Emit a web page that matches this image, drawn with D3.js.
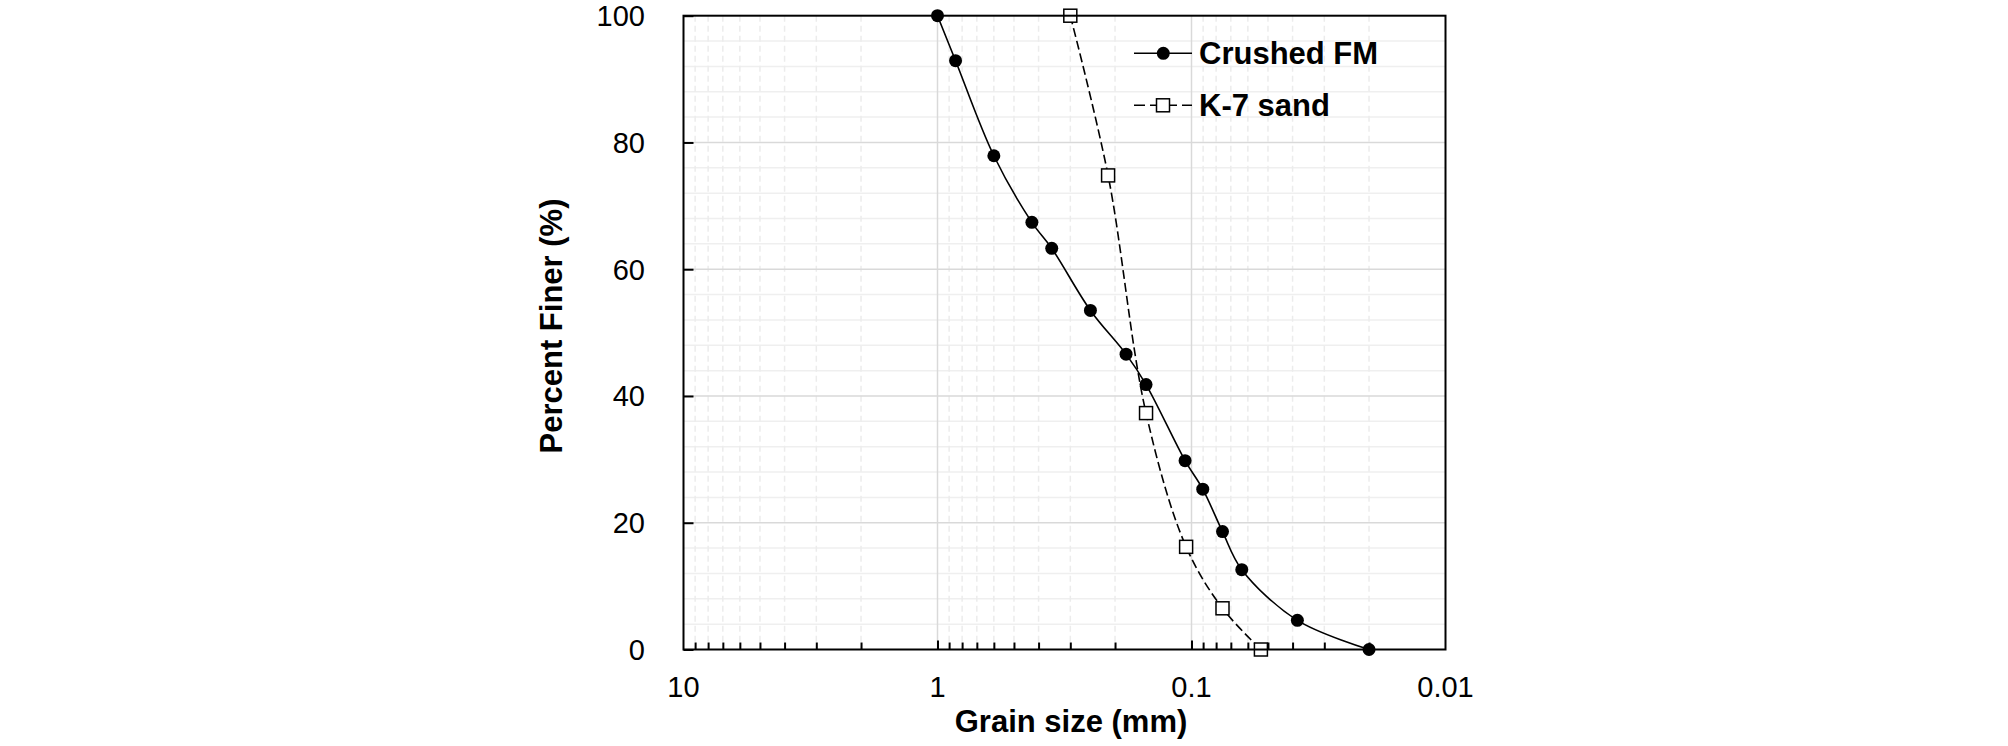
<!DOCTYPE html>
<html>
<head>
<meta charset="utf-8">
<script src="https://cdn.jsdelivr.net/npm/d3@7"></script>
<style>
  html, body { margin: 0; padding: 0; background: #fff; }
  svg { display: block; }
  text { font-family: "Liberation Sans", Arial, sans-serif; fill: #000; }
</style>
</head>
<body>
<script>
// ---- data ----
const crushedSize = [1, 0.849, 0.6, 0.425, 0.355, 0.25, 0.181, 0.151, 0.106, 0.0903, 0.0755, 0.0634, 0.0383, 0.02];
const crushedPct  = [100, 92.9, 77.9, 67.4, 63.3, 53.5, 46.6, 41.8, 29.8, 25.3, 18.6, 12.6, 4.6, 0];
const k7Size = [0.3, 0.213, 0.151, 0.105, 0.0755, 0.0533];
const k7Pct  = [100, 74.8, 37.3, 16.2, 6.5, 0];
const xTickValues = [10, 1, 0.1, 0.01];
const xTickLabels = ["10", "1", "0.1", "0.01"];
const yTickValues = [0, 20, 40, 60, 80, 100];
const seriesNames = ["Crushed FM", "K-7 sand"];

const W = 2008, H = 746;
const pL = 683.5, pR = 1445.5, pT = 15.7, pB = 649.5;

const svg = d3.select("body").append("svg").attr("width", W).attr("height", H);

const x = d3.scaleLog().domain([10, 0.01]).range([pL, pR]);
const y = d3.scaleLinear().domain([0, 100]).range([pB, pT]);

const grid = svg.append("g");
// minor horizontal gridlines every 4
const yMinor = d3.range(0, 101, 4).filter(v => v % 20 !== 0);
grid.selectAll("line.hmin").data(yMinor).enter().append("line")
  .attr("x1", pL).attr("x2", pR)
  .attr("y1", d => y(d)).attr("y2", d => y(d))
  .attr("stroke", "#efefef").attr("stroke-width", 1.5);
// minor vertical dashed gridlines
const xMinor = [];
[1, 0.1, 0.01].forEach(p => { for (let k = 2; k <= 9; k++) xMinor.push(+(k * p).toPrecision(3)); });
grid.selectAll("line.vmin").data(xMinor).enter().append("line")
  .attr("y1", pT).attr("y2", pB)
  .attr("x1", d => x(d)).attr("x2", d => x(d))
  .attr("stroke", "#ececec").attr("stroke-width", 1.5).attr("stroke-dasharray", "6,4");
// major horizontal gridlines
grid.selectAll("line.hmaj").data(yTickValues.filter(v => v > 0 && v < 100)).enter().append("line")
  .attr("x1", pL).attr("x2", pR)
  .attr("y1", d => y(d)).attr("y2", d => y(d))
  .attr("stroke", "#d9d9d9").attr("stroke-width", 1.5);
// major vertical gridlines
grid.selectAll("line.vmaj").data([1, 0.1]).enter().append("line")
  .attr("y1", pT).attr("y2", pB)
  .attr("x1", d => x(d)).attr("x2", d => x(d))
  .attr("stroke", "#d9d9d9").attr("stroke-width", 1.5);

// series
const crushed = crushedSize.map((s, i) => ({ s, p: crushedPct[i] }));
const k7 = k7Size.map((s, i) => ({ s, p: k7Pct[i] }));
const line = d3.line().x(d => x(d.s)).y(d => y(d.p)).curve(d3.curveCatmullRom.alpha(0.5));

svg.append("path").datum(crushed).attr("d", line)
  .attr("fill", "none").attr("stroke", "#000").attr("stroke-width", 1.6);
svg.append("path").datum(k7).attr("d", line)
  .attr("fill", "none").attr("stroke", "#000").attr("stroke-width", 1.6).attr("stroke-dasharray", "9,4");

svg.selectAll("circle.c").data(crushed).enter().append("circle")
  .attr("cx", d => x(d.s)).attr("cy", d => y(d.p)).attr("r", 6.5).attr("fill", "#000");
svg.selectAll("rect.k").data(k7).enter().append("rect")
  .attr("x", d => x(d.s) - 6.5).attr("y", d => y(d.p) - 6.5)
  .attr("width", 13).attr("height", 13)
  .attr("fill", "#fff").attr("stroke", "#000").attr("stroke-width", 1.5);

// frame
svg.append("rect").attr("x", pL).attr("y", pT).attr("width", pR - pL).attr("height", pB - pT)
  .attr("fill", "none").attr("stroke", "#000").attr("stroke-width", 2);

// y ticks (inside)
const yAxis = d3.axisRight(y).tickValues(yTickValues).tickSize(10).tickFormat("");
const ya = svg.append("g").attr("transform", `translate(${pL},0)`).call(yAxis);
ya.select(".domain").remove();
ya.selectAll("line").attr("stroke", "#000").attr("stroke-width", 2);
svg.selectAll("text.ytl").data(yTickValues).enter().append("text")
  .attr("x", 645).attr("y", d => y(d)).attr("dy", "0.36em")
  .attr("text-anchor", "end").attr("font-size", 29).text(d => d);

// x ticks (inside, minor + major)
const xaMinor = svg.append("g").attr("transform", `translate(0,${pB})`)
  .call(d3.axisTop(x).tickValues(xMinor).tickSize(7).tickFormat(""));
xaMinor.select(".domain").remove();
xaMinor.selectAll("line").attr("stroke", "#000").attr("stroke-width", 2);
const xaMajor = svg.append("g").attr("transform", `translate(0,${pB})`)
  .call(d3.axisTop(x).tickValues([1, 0.1]).tickSize(9).tickFormat(""));
xaMajor.select(".domain").remove();
xaMajor.selectAll("line").attr("stroke", "#000").attr("stroke-width", 2);
svg.selectAll("text.xtl").data(xTickValues).enter().append("text")
  .attr("x", d => x(d)).attr("y", 697)
  .attr("text-anchor", "middle").attr("font-size", 29).text((d, i) => xTickLabels[i]);

// axis titles
svg.append("text").attr("x", 1071).attr("y", 731.5).attr("text-anchor", "middle")
  .attr("font-size", 31).attr("font-weight", "bold").text("Grain size (mm)");
svg.append("text").attr("transform", "translate(561.5,326) rotate(-90)").attr("text-anchor", "middle")
  .attr("font-size", 31).attr("font-weight", "bold").text("Percent Finer (%)");

// legend
const lg = svg.append("g");
lg.append("line").attr("x1", 1134).attr("x2", 1192).attr("y1", 53.3).attr("y2", 53.3)
  .attr("stroke", "#000").attr("stroke-width", 1.6);
lg.append("circle").attr("cx", 1163.3).attr("cy", 53.3).attr("r", 6.5).attr("fill", "#000");
lg.append("text").attr("x", 1199).attr("y", 63.6).attr("font-size", 31).attr("font-weight", "bold").text(seriesNames[0]);
lg.append("line").attr("x1", 1134).attr("x2", 1192).attr("y1", 105.3).attr("y2", 105.3)
  .attr("stroke", "#000").attr("stroke-width", 1.6).attr("stroke-dasharray", "11,5");
lg.append("rect").attr("x", 1163 - 6.5).attr("y", 105.3 - 6.5).attr("width", 13).attr("height", 13)
  .attr("fill", "#fff").attr("stroke", "#000").attr("stroke-width", 1.5);
lg.append("text").attr("x", 1199).attr("y", 115.6).attr("font-size", 31).attr("font-weight", "bold").text(seriesNames[1]);
</script>
</body>
</html>
